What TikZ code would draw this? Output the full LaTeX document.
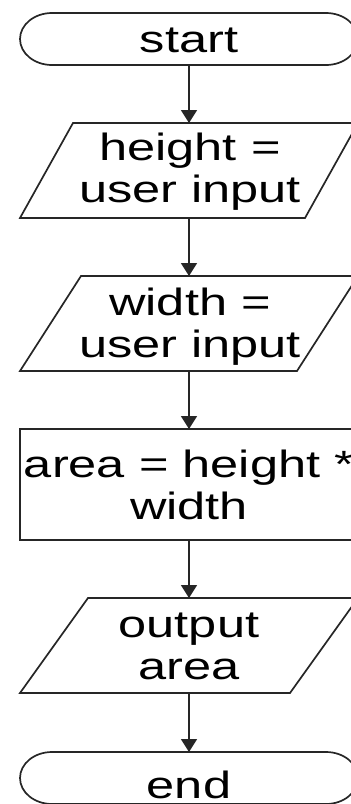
\documentclass[tikz,border=0pt]{standalone}
\usepackage{fontspec}
\setmainfont[FakeStretch=1.33]{Liberation Sans}
\usetikzlibrary{arrows.meta}

\tikzset{
  frame/.style={draw=none, inner sep=0pt, outer sep=0pt},
  outline/.style={draw=black!85, line width=1.7pt, line join=miter},
  label/.style={inner sep=0pt, anchor=base, align=center,
    font=\fontsize{38}{42}\selectfont},
  flow/.style={draw=black!85, line width=1.7pt,
    -{Triangle[width=16pt,length=13pt]}},
}

% rounded terminal with elliptical ends
\newcommand\termshape[1]{%
  \draw[outline] ([xshift=32pt]#1.north west) -- ([xshift=-32pt]#1.north east)
    arc[start angle=90, end angle=-90, x radius=32pt, y radius=26pt]
    -- ([xshift=32pt]#1.south west)
    arc[start angle=270, end angle=90, x radius=32pt, y radius=26pt] -- cycle;}
% parallelogram leaning right, #2 = horizontal slant
\newcommand\ioshape[2]{%
  \draw[outline] ([xshift=#2]#1.north west) -- (#1.north east)
    -- ([xshift=-#2]#1.south east) -- (#1.south west) -- cycle;}

\begin{document}
\begin{tikzpicture}[x=1pt, y=1pt]
  \useasboundingbox (0,0) rectangle (351,-804);
  \clip (0,0) rectangle (351,-804);

  % shapes
  \node[frame, minimum width=338pt, minimum height=52pt]  (start) at (189,-39)    {};
  \node[frame, minimum width=338pt, minimum height=95pt]  (in1)   at (189,-170.5) {};
  \node[frame, minimum width=338pt, minimum height=95pt]  (in2)   at (189,-323.5) {};
  \node[frame, minimum width=338pt, minimum height=111pt] (calc)  at (189,-484.5) {};
  \node[frame, minimum width=338pt, minimum height=95pt]  (out)   at (189,-645.5) {};
  \node[frame, minimum width=338pt, minimum height=52pt]  (stop)  at (189,-778)   {};

  \termshape{start}
  \ioshape{in1}{53pt}
  \ioshape{in2}{61pt}
  \draw[outline] (calc.north west) rectangle (calc.south east);
  \ioshape{out}{68pt}
  \termshape{stop}

  % texts (anchored at the baseline of the last line)
  \node[label] (tstart) at (189,-52)  {start};
  \node[label] (tin1)   at (190,-202) {height =\\user input};
  \node[label] (tin2)   at (190,-357) {width =\\user input};
  \node[label] (tcalc)  at (189,-519) {area = height *\\width};
  \node[label] (tout)   at (189,-679) {output\\area};
  \node[label] (tstop)  at (189,-798) {end};

  % connectors
  \draw[flow] (start.south) -- (in1.north);
  \draw[flow] (in1.south)   -- (in2.north);
  \draw[flow] (in2.south)   -- (calc.north);
  \draw[flow] (calc.south)  -- (out.north);
  \draw[flow] (out.south)   -- (stop.north);
\end{tikzpicture}
\end{document}
